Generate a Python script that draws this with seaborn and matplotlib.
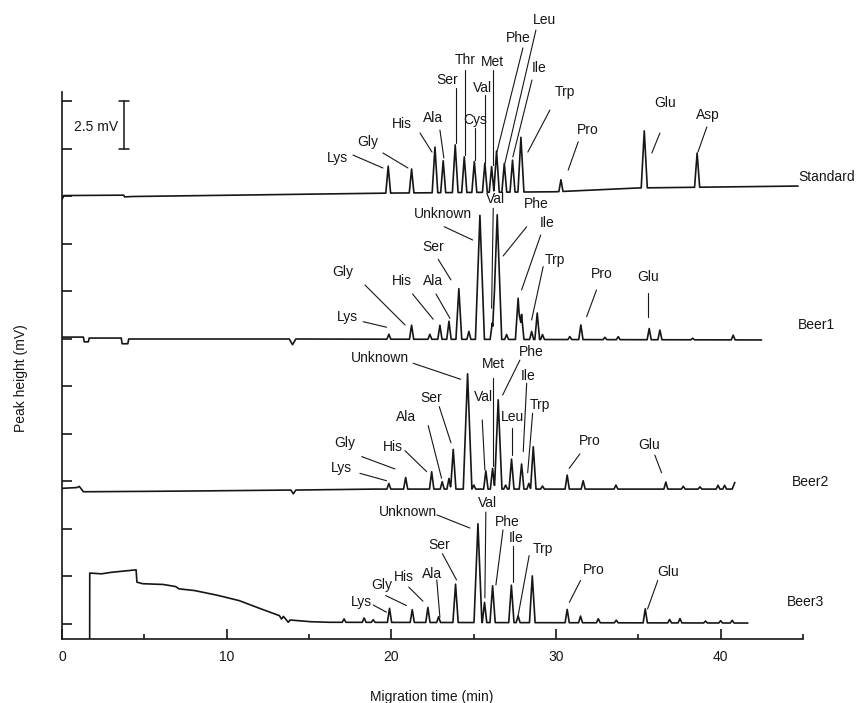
import numpy as np
import pandas as pd
import seaborn as sns
import matplotlib.pyplot as plt
from matplotlib.ticker import MultipleLocator

# ---- data (time in min, signal in mV) ----
# baseline knots and peaks (apex time, height above baseline)
std_base_t = [0.0, 0.12, 3.75, 3.8, 4.3, 20.0, 30.0, 35.0, 44.7]
std_base_v = [22.35, 22.55, 22.57, 22.48, 22.5, 22.68, 22.75, 22.95, 23.05]
std_peak_t = [19.81, 21.23, 22.65, 23.15, 23.88, 24.43, 25.04, 25.68, 26.09,
              26.39, 26.86, 27.36, 27.87, 30.30, 35.36, 38.57]
std_peak_h = [1.42, 1.26, 2.40, 1.68, 2.51, 1.88, 1.63, 1.53, 1.35,
              2.17, 1.51, 1.68, 2.88, 0.62, 3.0, 1.8]

b1_base_t = [0.0, 1.3, 1.35, 1.6, 1.65, 3.6, 3.65, 4.0, 4.05, 13.8, 14.0, 14.2, 42.48]
b1_base_v = [15.1, 15.1, 14.85, 14.85, 15.05, 15.05, 14.75, 14.75, 15.0, 15.0, 14.7, 15.0, 14.95]
b1_peak_t = [19.85, 21.23, 22.34, 22.95, 23.50, 24.10, 24.71, 25.38, 26.13, 26.43,
             27.00, 27.70, 27.91, 28.52, 28.86, 29.18, 30.84, 31.51, 32.97, 33.78,
             35.66, 36.31, 38.3, 40.76]
b1_peak_h = [0.26, 0.74, 0.26, 0.74, 0.95, 2.67, 0.42, 6.53, 0.86, 6.56,
             0.26, 2.17, 1.32, 0.42, 1.39, 0.26, 0.16, 0.77, 0.12, 0.16,
             0.59, 0.51, 0.08, 0.25]

b2_base_t = [0.0, 0.9, 1.05, 1.3, 5.0, 8.0, 13.9, 14.05, 14.2, 19.0, 40.7, 40.86]
b2_base_v = [7.14, 7.18, 7.24, 6.96, 6.98, 7.0, 7.05, 6.85, 7.05, 7.1, 7.1, 7.45]
b2_peak_t = [19.85, 20.87, 22.45, 23.09, 23.50, 23.76, 24.63, 25.01, 25.74, 26.15,
             26.49, 26.94, 27.30, 27.91, 28.35, 28.62, 29.18, 30.68, 31.65, 33.64,
             36.67, 37.73, 38.74, 39.84, 40.24]
b2_peak_h = [0.30, 0.61, 0.91, 0.39, 0.56, 2.09, 6.07, 0.21, 0.96, 1.09,
             4.70, 0.21, 1.58, 1.32, 0.30, 2.23, 0.16, 0.74, 0.44, 0.21,
             0.37, 0.15, 0.12, 0.2, 0.2]

b3_base_t = [1.68, 1.685, 2.4, 3.0, 4.5, 4.55, 4.9, 6.15, 6.9, 7.1, 8.05, 9.5,
             10.76, 12.1, 13.2, 13.33, 13.45, 13.74, 13.85, 15.1, 16.2, 41.65]
b3_base_v = [-0.9, 2.68, 2.64, 2.72, 2.85, 2.2, 2.12, 2.08, 1.97, 1.85, 1.76, 1.5,
             1.23, 0.79, 0.44, 0.26, 0.4, 0.09, 0.21, 0.12, 0.09, 0.05]
b3_peak_t = [17.13, 18.35, 18.9, 19.89, 21.27, 22.22, 22.87, 23.90, 25.26, 25.66,
             26.15, 27.29, 27.70, 28.56, 30.68, 31.49, 32.57, 33.66, 35.42, 36.9,
             37.53, 39.08, 40.0, 40.7]
b3_peak_h = [0.18, 0.23, 0.14, 0.74, 0.67, 0.79, 0.30, 2.02, 5.2, 1.06,
             1.94, 1.97, 0.35, 2.46, 0.70, 0.35, 0.21, 0.14, 0.74, 0.18,
             0.23, 0.1, 0.12, 0.14]

samples = ["Standard", "Beer1", "Beer2", "Beer3"]

# ---- annotation layout: (text, label centre, leader start, leader end) ----
std_notes = [
    ("Lys", (16.70, 24.53), (17.67, 24.68), (19.49, 24.00)),
    ("Gly", (18.58, 25.37), (19.49, 24.79), (21.01, 24.00)),
    ("His", (20.64, 26.32), (21.74, 25.84), (22.47, 24.84)),
    ("Ala", (22.53, 26.63), (22.95, 26.00), (23.19, 24.53)),
    ("Ser", (23.38, 28.63), (23.92, 28.21), (23.92, 25.32)),
    ("Thr", (24.47, 29.68), (24.47, 29.16), (24.47, 24.68)),
    ("Cys", (25.08, 26.53), (25.08, 26.10), (25.08, 24.42)),
    ("Val", (25.56, 28.21), (25.68, 27.85), (25.68, 24.26)),
    ("Met", (26.11, 29.58), (26.17, 29.16), (26.17, 24.16)),
    ("Phe", (27.69, 30.84), (27.99, 30.32), (26.41, 24.84)),
    ("Leu", (29.33, 31.79), (28.78, 31.26), (26.90, 24.26)),
    ("Ile", (28.96, 29.26), (28.54, 28.63), (27.38, 24.58)),
    ("Trp", (30.54, 28.00), (29.63, 27.05), (28.29, 24.84)),
    ("Pro", (31.94, 26.00), (31.35, 25.38), (30.74, 23.89)),
    ("Glu", (36.61, 27.42), (36.31, 25.84), (35.82, 24.79)),
    ("Asp", (39.22, 26.79), (39.16, 26.16), (38.62, 24.84)),
]
b1_notes = [
    ("Lys", (17.36, 16.16), (18.29, 15.91), (19.71, 15.62)),
    ("Gly", (17.06, 18.53), (18.40, 17.84), (20.83, 15.74)),
    ("His", (20.64, 18.05), (21.29, 17.37), (22.54, 16.04)),
    ("Ala", (22.53, 18.05), (22.71, 17.37), (23.56, 16.09)),
    ("Ser", (22.53, 19.84), (22.85, 19.19), (23.62, 18.11)),
    ("Unknown", (23.13, 21.58), (23.21, 20.91), (24.94, 20.21)),
    ("Val", (26.35, 22.37), (26.19, 21.88), (26.09, 16.62)),
    ("Phe", (28.78, 22.11), (28.22, 20.91), (26.79, 19.37)),
    ("Ile", (29.45, 21.11), (29.07, 20.47), (27.91, 17.58)),
    ("Trp", (29.93, 19.16), (29.22, 18.81), (28.52, 16.00)),
    ("Pro", (32.79, 18.42), (32.46, 17.58), (31.86, 16.17)),
    ("Glu", (35.58, 18.26), (35.56, 17.42), (35.56, 16.16)),
]
b2_notes = [
    ("Lys", (17.00, 8.21), (18.09, 7.93), (19.71, 7.54)),
    ("Gly", (17.18, 9.53), (18.20, 8.81), (20.22, 8.16)),
    ("His", (20.10, 9.32), (20.83, 9.12), (22.14, 8.02)),
    ("Ala", (20.89, 10.89), (22.24, 10.44), (23.05, 7.67)),
    ("Ser", (22.45, 11.88), (22.91, 11.44), (23.62, 9.54)),
    ("Unknown", (19.31, 13.98), (21.33, 13.72), (24.21, 12.88)),
    ("Val", (25.58, 11.96), (25.52, 10.74), (25.68, 8.11)),
    ("Met", (26.19, 13.68), (26.15, 12.95), (26.15, 8.32)),
    ("Phe", (28.52, 14.33), (27.81, 13.89), (26.76, 12.05)),
    ("Leu", (27.36, 10.88), (27.30, 10.30), (27.30, 8.89)),
    ("Ile", (28.31, 13.05), (28.22, 12.67), (28.01, 9.07)),
    ("Trp", (29.02, 11.53), (28.58, 11.09), (28.28, 7.96)),
    ("Pro", (32.06, 9.65), (31.45, 8.95), (30.80, 8.19)),
    ("Glu", (35.66, 9.42), (36.00, 8.89), (36.41, 7.96)),
]
b3_notes = [
    ("Lys", (18.16, 1.18), (18.90, 1.00), (19.70, 0.62)),
    ("Gly", (19.43, 2.06), (19.65, 1.50), (20.92, 0.97)),
    ("His", (20.79, 2.46), (21.06, 1.94), (21.92, 1.20)),
    ("Ala", (22.47, 2.64), (22.76, 2.32), (22.95, 0.35)),
    ("Ser", (22.90, 4.14), (23.10, 3.70), (23.96, 2.32)),
    ("Unknown", (21.00, 5.90), (22.77, 5.74), (24.77, 5.05)),
    ("Val", (25.87, 6.37), (25.74, 5.89), (25.68, 1.37)),
    ("Phe", (27.02, 5.37), (26.78, 4.95), (26.35, 2.05)),
    ("Ile", (27.56, 4.55), (27.37, 4.10), (27.37, 2.20)),
    ("Trp", (29.19, 3.96), (28.37, 3.60), (27.70, 0.44)),
    ("Pro", (32.30, 2.82), (31.49, 2.29), (30.81, 1.14)),
    ("Glu", (36.78, 2.73), (36.18, 2.29), (35.56, 0.79)),
]
sample_pos = [(44.69, 23.53), (44.69, 15.74), (44.32, 7.47), (44.02, 1.16)]


def trace(base_t, base_v, peak_t, peak_h):
    # narrow triangular peaks sitting on the baseline, sampled at their corners
    pt = np.array(peak_t)
    ph = np.array(peak_h)
    w = 0.11 + 0.025 * ph
    t = np.unique(np.concatenate([base_t, pt, pt - w, pt + w]))
    t = t[(t >= base_t[0]) & (t <= base_t[-1])]
    tri = np.clip(ph[None, :] * (1 - np.abs(t[:, None] - pt[None, :]) / w[None, :]), 0, None)
    return t, np.interp(t, base_t, base_v) + tri.max(axis=1)


raw = [(std_base_t, std_base_v, std_peak_t, std_peak_h),
       (b1_base_t, b1_base_v, b1_peak_t, b1_peak_h),
       (b2_base_t, b2_base_v, b2_peak_t, b2_peak_h),
       (b3_base_t, b3_base_v, b3_peak_t, b3_peak_h)]
frames = []
for name, r in zip(samples, raw):
    t, v = trace(*r)
    frames.append(pd.DataFrame({"time": t, "signal": v, "sample": name}))
df = pd.concat(frames, ignore_index=True)

sns.set_style("ticks")
plt.rcParams['font.family'] = ['Liberation Sans', 'DejaVu Sans']
ink = "#161616"

fig = plt.figure(figsize=(8.57, 7.03), dpi=100)
ax = fig.add_axes([62 / 857, 64 / 703, 741 / 857, 547 / 703])

sns.lineplot(data=df, x="time", y="signal", units="sample", estimator=None,
             sort=False, color=ink, lw=1.2, ax=ax, legend=False)

for notes in [std_notes, b1_notes, b2_notes, b3_notes]:
    for txt, (lx, ly), (x0, y0), (x1, y1) in notes:
        ax.text(lx, ly, txt, ha="center", va="center", fontsize=10, color=ink, clip_on=False)
        ax.plot([x0, x1], [y0, y1], color=ink, lw=0.8, clip_on=False)

for name, (sx, sy) in zip(samples, sample_pos):
    ax.text(sx, sy, name, ha="left", va="center", fontsize=10, color=ink, clip_on=False)

# 2.5 mV scale bar
ax.plot([3.76, 3.76], [25.0, 27.5], color=ink, lw=1.1)
ax.plot([3.46, 4.06], [27.5, 27.5], color=ink, lw=1.1)
ax.plot([3.46, 4.06], [25.0, 25.0], color=ink, lw=1.1)
ax.text(3.4, 26.16, "2.5 mV", ha="right", va="center", fontsize=10, color=ink)

ax.set_xlim(0, 45)
ax.set_ylim(-0.79, 28.0)
sns.despine(ax=ax)
for s in ["left", "bottom"]:
    ax.spines[s].set_linewidth(1.2)
    ax.spines[s].set_color(ink)

ax.xaxis.set_major_locator(MultipleLocator(10))
ax.xaxis.set_minor_locator(MultipleLocator(5))
ax.tick_params(axis="x", which="major", direction="in", length=7, width=1.2,
               labelsize=10, pad=8, colors=ink)
ax.tick_params(axis="x", which="minor", direction="in", length=3.6, width=1.2, colors=ink)
ax.set_yticks(np.arange(0, 28, 2.5))
ax.set_yticklabels([])
ax.tick_params(axis="y", direction="in", length=7, width=1.2, colors=ink)

ax.set_xlabel("")
ax.set_ylabel("Peak height (mV)", fontsize=10, color=ink)
ax.yaxis.set_label_coords(-0.046, 0.477)
fig.text(432 / 857, 1 - 697 / 703, "Migration time (min)", ha="center", va="center",
         fontsize=10, color=ink)

fig.savefig("out.png", dpi=100)
